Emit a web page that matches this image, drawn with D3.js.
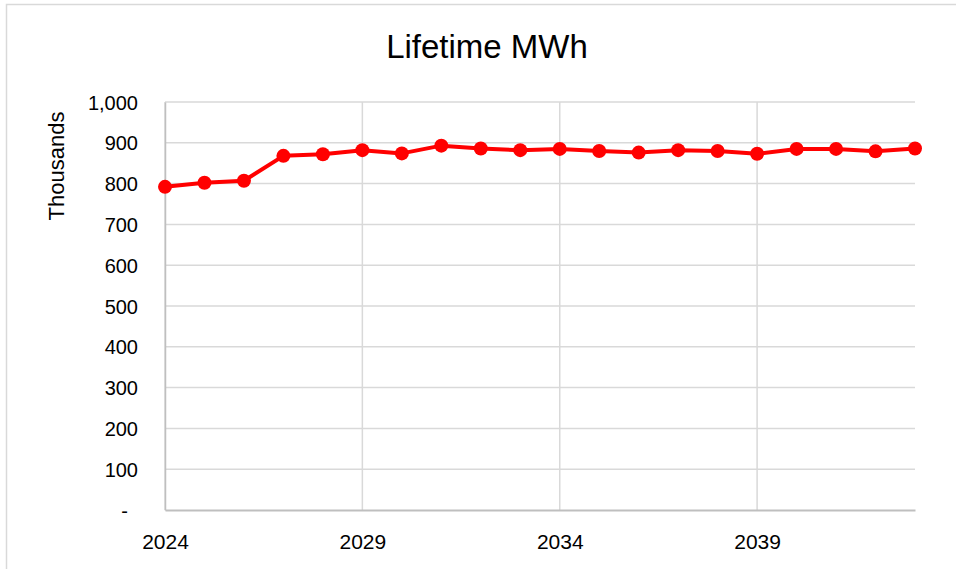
<!DOCTYPE html>
<html>
<head>
<meta charset="utf-8">
<script src="https://cdn.jsdelivr.net/npm/d3@7"></script>
<style>
  body { margin: 0; background: #fff; }
  svg text { font-family: "Liberation Sans", Arial, sans-serif; fill: #000; }
</style>
</head>
<body>
<div id="chart"></div>
<script>
// chart data (thousands of MWh)
var years = [2024, 2025, 2026, 2027, 2028, 2029, 2030, 2031, 2032, 2033,
             2034, 2035, 2036, 2037, 2038, 2039, 2040, 2041, 2042, 2043];
var lifetimeMWh = [792, 802, 807, 868, 872, 882, 874, 893, 886, 882,
                   885, 880, 876, 882, 880, 873, 885, 885, 879, 886];
var yTicks = [0, 100, 200, 300, 400, 500, 600, 700, 800, 900, 1000];
var xTicks = [2024, 2029, 2034, 2039];

var svgWidth = 956;
var svgHeight = 569;

var margin = { top: 102, right: 41, bottom: 59, left: 165 };
var width = svgWidth - margin.left - margin.right;
var height = svgHeight - margin.top - margin.bottom;

var svg = d3.select("#chart")
  .append("svg")
  .attr("width", svgWidth)
  .attr("height", svgHeight);

// chart border
svg.append("rect")
  .attr("x", 6.5)
  .attr("y", 4.5)
  .attr("width", svgWidth + 10)
  .attr("height", svgHeight + 10)
  .attr("fill", "none")
  .attr("stroke", "#d9d9d9")
  .attr("stroke-width", 1.5);

// title
svg.append("text")
  .attr("x", 487)
  .attr("y", 58)
  .attr("text-anchor", "middle")
  .style("font-size", "33px")
  .text("Lifetime MWh");

var chartGroup = svg.append("g")
  .attr("transform", `translate(${margin.left}, ${margin.top})`);

var xScale = d3.scaleLinear()
  .domain([d3.min(years), d3.max(years)])
  .range([0, width]);

var yScale = d3.scaleLinear()
  .domain([0, 1000])
  .range([height, 0]);

// horizontal gridlines
chartGroup.append("g")
  .selectAll("line")
  .data(yTicks.filter(d => d > 0))
  .enter()
  .append("line")
  .attr("x1", 0)
  .attr("x2", width)
  .attr("y1", d => yScale(d))
  .attr("y2", d => yScale(d))
  .attr("stroke", "#d9d9d9")
  .attr("stroke-width", 1.5);

// vertical gridlines
chartGroup.append("g")
  .selectAll("line")
  .data(xTicks)
  .enter()
  .append("line")
  .attr("x1", d => xScale(d))
  .attr("x2", d => xScale(d))
  .attr("y1", 0)
  .attr("y2", height)
  .attr("stroke", "#d9d9d9")
  .attr("stroke-width", 1.5);

// axes
var bottomAxis = d3.axisBottom(xScale)
  .tickValues(xTicks)
  .tickFormat(d3.format("d"))
  .tickSize(0)
  .tickPadding(39);

var leftAxis = d3.axisLeft(yScale)
  .tickValues(yTicks)
  .tickFormat(d => d === 0 ? "-" : d3.format(",")(d))
  .tickSize(0)
  .tickPadding(27);

var xAxisG = chartGroup.append("g")
  .attr("transform", `translate(0, ${height})`)
  .call(bottomAxis);
xAxisG.select(".domain").attr("stroke", "#bfbfbf").attr("stroke-width", 2);
xAxisG.selectAll("text").style("font-size", "21px").attr("dy", 0);

var yAxisG = chartGroup.append("g")
  .call(leftAxis);
yAxisG.select(".domain").attr("stroke", "#bfbfbf").attr("stroke-width", 1.5);
yAxisG.selectAll("text").style("font-size", "20px").attr("dy", "0.35em");
yAxisG.selectAll(".tick")
  .filter(d => d === 0)
  .select("text")
  .attr("x", -37);

// axis title
svg.append("text")
  .attr("transform", "translate(64, 166) rotate(-90)")
  .attr("text-anchor", "middle")
  .style("font-size", "22px")
  .text("Thousands");

// line
var line = d3.line()
  .x((d, i) => xScale(years[i]))
  .y(d => yScale(d));

chartGroup.append("path")
  .datum(lifetimeMWh)
  .attr("d", line)
  .attr("fill", "none")
  .attr("stroke", "#ff0000")
  .attr("stroke-width", 4)
  .attr("stroke-linejoin", "round");

// markers
chartGroup.selectAll("circle")
  .data(lifetimeMWh)
  .enter()
  .append("circle")
  .attr("cx", (d, i) => xScale(years[i]))
  .attr("cy", d => yScale(d))
  .attr("r", 7)
  .attr("fill", "#ff0000");
</script>
</body>
</html>
